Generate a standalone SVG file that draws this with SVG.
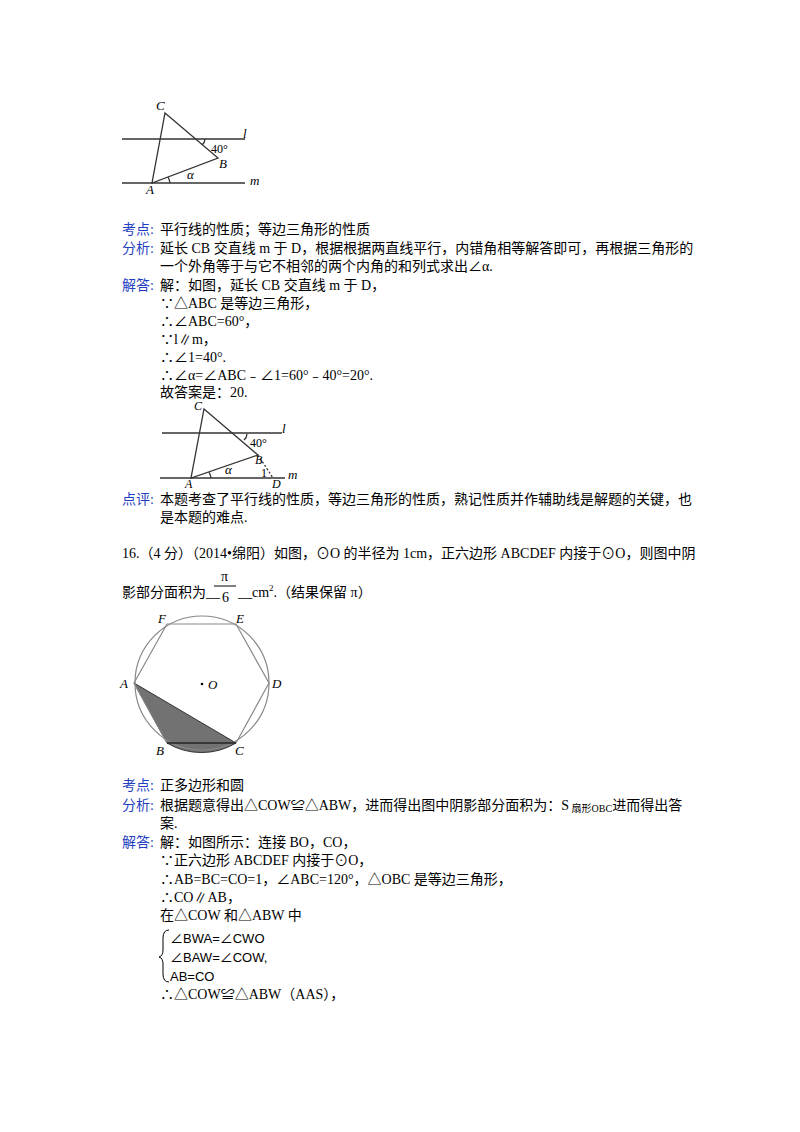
<svg xmlns="http://www.w3.org/2000/svg" width="800" height="1132" viewBox="0 0 800 1132">
<style>
text{font-family:"Liberation Serif","Noto Sans CJK SC",serif;font-size:14px;fill:#000}
.k{fill:#1f3fbf}
.lb{font-style:italic;font-size:13px}
.g line,.g path,.g polygon{stroke:#333;stroke-width:1.3;fill:none}
.br{font-family:"Liberation Sans","Noto Sans CJK SC",sans-serif;font-size:13px}
</style>
<rect width="800" height="1132" fill="#fff"/>
<g id="fig1" class="g">
<line x1="122" y1="139" x2="245" y2="139"/>
<line x1="122" y1="183" x2="245" y2="183"/>
<polygon points="165,113 218,158 152,183"/>
<path d="M202,145 A8 8 0 0 0 205,139"/>
<path d="M170,183 A18 18 0 0 0 168,177"/>
</g>
<text class="lb" x="156" y="110">C</text><text class="lb" x="243" y="138">l</text>
<text x="211" y="153" style="font-size:12px">40°</text><text class="lb" x="219" y="168">B</text>
<text class="lb" x="187" y="179">α</text><text class="lb" x="146" y="194">A</text><text class="lb" x="250" y="185">m</text>
<text x="122" y="234" class="k">考点:</text><text x="160" y="234">平行线的性质；等边三角形的性质</text>
<text x="122" y="253" class="k">分析:</text><text x="160" y="253">延长 CB 交直线 m 于 D，根据根据两直线平行，内错角相等解答即可，再根据三角形的</text>
<text x="160" y="271">一个外角等于与它不相邻的两个内角的和列式求出∠α.</text>
<text x="122" y="290" class="k">解答:</text><text x="160" y="290">解：如图，延长 CB 交直线 m 于 D，</text>
<text x="160" y="308">∵△ABC 是等边三角形，</text>
<text x="160" y="326">∴∠ABC=60°，</text>
<text x="160" y="344">∵l∥m，</text>
<text x="160" y="362">∴∠1=40°.</text>
<text x="160" y="380">∴∠α=∠ABC﹣∠1=60°﹣40°=20°.</text>
<text x="160" y="397">故答案是：20.</text>
<g id="fig2" class="g">
<line x1="162" y1="433" x2="282" y2="433"/>
<line x1="160" y1="478" x2="285" y2="478"/>
<polygon points="204,409 258,455 191,478"/>
<line x1="258" y1="455" x2="273" y2="478" stroke-dasharray="2,2"/>
<path d="M244,440 A8 8 0 0 0 247,434"/>
<path d="M211,478 A18 18 0 0 0 209,472"/>
</g>
<text class="lb" x="194" y="410" style="font-size:12px">C</text><text class="lb" x="282" y="433">l</text>
<text x="250" y="447" style="font-size:12px">40°</text><text class="lb" x="255" y="464" style="font-size:12px">B</text>
<text class="lb" x="225" y="474">α</text><text x="261" y="477" style="font-size:12px">1</text>
<text class="lb" x="185" y="488" style="font-size:12px">A</text><text class="lb" x="272" y="488" style="font-size:12px">D</text><text class="lb" x="288" y="479">m</text>
<text x="122" y="504" class="k">点评:</text><text x="160" y="504">本题考查了平行线的性质，等边三角形的性质，熟记性质并作辅助线是解题的关键，也</text>
<text x="160" y="522">是本题的难点.</text>
<text x="122" y="558">16.（4 分）（2014•绵阳）如图，⊙O 的半径为 1cm，正六边形 ABCDEF 内接于⊙O，则图中阴</text>
<text x="122" y="597">影部分面积为__</text>
<text x="221" y="581">π</text><line x1="214" y1="586" x2="236" y2="586" stroke="#000" stroke-width="1"/>
<text x="222" y="602">6</text>
<text x="238" y="597">__cm<tspan dy="-6" style="font-size:9px">2</tspan><tspan dy="6">.（结果保留 π）</tspan></text>
<g id="fig3">
<path d="M134,683 L167,743 A67 67 0 0 0 236,743 Z" fill="#727272" stroke="#333" stroke-width="1"/>
<circle cx="202" cy="683" r="67" fill="none" stroke="#888" stroke-width="1.2"/>
<polygon points="134,683 167,624 236,624 269,683 236,743 167,743" fill="none" stroke="#888" stroke-width="1.2"/>
<line x1="167" y1="743" x2="236" y2="743" stroke="#222" stroke-width="1.3"/>
<circle cx="202" cy="684" r="1.3" fill="#000"/>
</g>
<text class="lb" x="158" y="623">F</text><text class="lb" x="236" y="623">E</text>
<text class="lb" x="120" y="688">A</text><text class="lb" x="272" y="688">D</text>
<text class="lb" x="208" y="689">O</text>
<text class="lb" x="156" y="755">B</text><text class="lb" x="235" y="755">C</text>
<text x="122" y="790" class="k">考点:</text><text x="160" y="790">正多边形和圆</text>
<text x="122" y="810" class="k">分析:</text><text x="160" y="810">根据题意得出△COW≌△ABW，进而得出图中阴影部分面积为：S<tspan dy="2" style="font-size:10px"> 扇形OBC</tspan><tspan dy="-2">进而得出答</tspan></text>
<text x="160" y="828">案.</text>
<text x="122" y="847" class="k">解答:</text><text x="160" y="847">解：如图所示：连接 BO，CO，</text>
<text x="160" y="865">∵正六边形 ABCDEF 内接于⊙O，</text>
<text x="160" y="884">∴AB=BC=CO=1，∠ABC=120°，△OBC 是等边三角形，</text>
<text x="160" y="902">∴CO∥AB，</text>
<text x="160" y="920">在△COW 和△ABW 中</text>
<path d="M169,930 Q163,930 163,938 L163,950 Q163,956 159,957 Q163,958 163,964 L163,974 Q163,982 169,982" fill="none" stroke="#000" stroke-width="1"/>
<text class="br" x="170" y="943">∠BWA=∠CWO</text>
<text class="br" x="170" y="962">∠BAW=∠COW,</text>
<text class="br" x="170" y="981">AB=CO</text>
<text x="160" y="999">∴△COW≌△ABW（AAS），</text>
</svg>
